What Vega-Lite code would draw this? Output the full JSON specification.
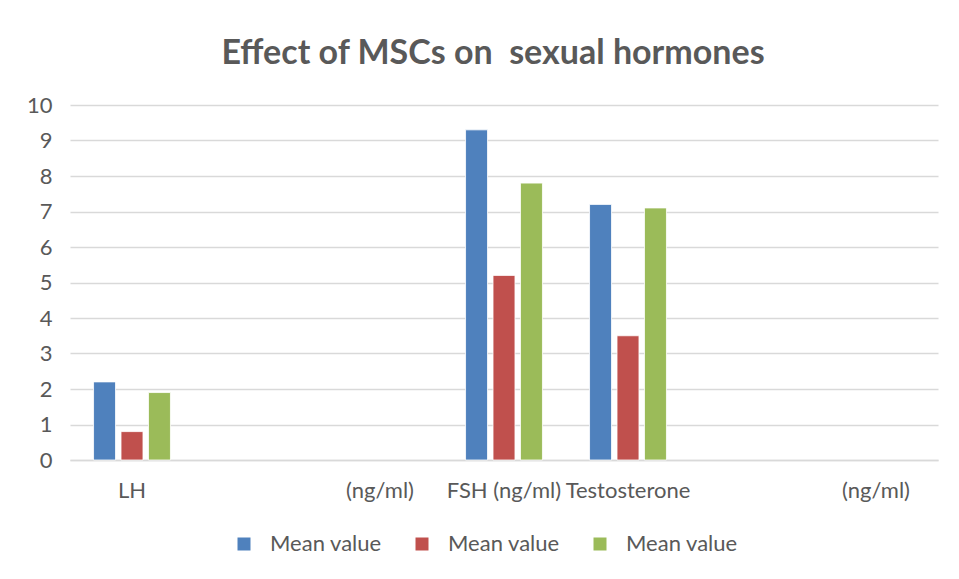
{
  "$schema": "https://vega.github.io/schema/vega-lite/v6.json",
  "width": 868,
  "height": 355,
  "autosize": {"type": "none"},
  "padding": {"left": 70, "top": 105, "right": 21, "bottom": 119},
  "background": "white",
  "title": {
    "text": "Effect of MSCs on\u00a0 sexual hormones",
    "font": "Lato",
    "fontSize": 34,
    "fontWeight": "bold",
    "color": "#595959",
    "anchor": "middle",
    "baseline": "bottom",
    "offset": -11,
    "dx": -11
  },
  "data": {
    "values": [
      {"category": "LH", "series": "s1", "value": 2.2},
      {"category": "LH", "series": "s2", "value": 0.8},
      {"category": "LH", "series": "s3", "value": 1.9},
      {"category": "FSH (ng/ml)", "series": "s1", "value": 9.3},
      {"category": "FSH (ng/ml)", "series": "s2", "value": 5.2},
      {"category": "FSH (ng/ml)", "series": "s3", "value": 7.8},
      {"category": "Testosterone", "series": "s1", "value": 7.2},
      {"category": "Testosterone", "series": "s2", "value": 3.5},
      {"category": "Testosterone", "series": "s3", "value": 7.1}
    ]
  },
  "mark": {"type": "bar", "stroke": "white", "strokeWidth": 0.8},
  "encoding": {
    "x": {
      "field": "category",
      "type": "nominal",
      "sort": null,
      "scale": {
        "domain": ["LH", " ", "(ng/ml) ", "FSH (ng/ml)", "Testosterone", "  ", "(ng/ml)"],
        "paddingInner": 0.38,
        "paddingOuter": 0.19
      },
      "axis": {
        "title": null,
        "labelAngle": 0,
        "labelExpr": "trim(datum.label)",
        "labelFont": "Lato",
        "labelFontSize": 22,
        "labelColor": "#595959",
        "labelPadding": 20,
        "ticks": false,
        "domainColor": "#d9d9d9",
        "domainWidth": 1.5,
        "grid": false
      }
    },
    "xOffset": {
      "field": "series",
      "type": "nominal",
      "scale": {"paddingInner": 0.2, "paddingOuter": 0}
    },
    "y": {
      "field": "value",
      "type": "quantitative",
      "scale": {"domain": [0, 10], "nice": false},
      "axis": {
        "title": null,
        "values": [0, 1, 2, 3, 4, 5, 6, 7, 8, 9, 10],
        "labelFont": "Lato",
        "labelFontSize": 22,
        "labelColor": "#595959",
        "labelPadding": 18,
        "ticks": false,
        "domain": false,
        "grid": true,
        "gridColor": "#d9d9d9",
        "gridWidth": 1.5
      }
    },
    "color": {
      "field": "series",
      "type": "nominal",
      "scale": {"domain": ["s1", "s2", "s3"], "range": ["#4F81BD", "#C0504D", "#9BBB59"]},
      "legend": {
        "title": null,
        "orient": "none",
        "legendX": 163,
        "legendY": 428,
        "direction": "horizontal",
        "symbolType": "square",
        "symbolSize": 169,
        "symbolStrokeWidth": 0,
        "labelExpr": "'Mean value'",
        "labelFont": "Lato",
        "labelFontSize": 22,
        "labelColor": "#595959",
        "labelOffset": 15,
        "columnPadding": 29
      }
    }
  },
  "config": {"view": {"stroke": null}}
}
